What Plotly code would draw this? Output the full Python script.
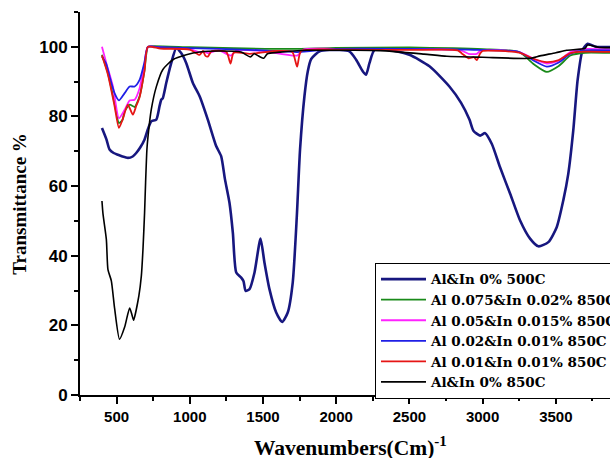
import plotly.graph_objects as go

names = ["Al&In 0% 500C", "Al 0.075&In 0.02% 850C", "Al 0.05&In 0.015% 850C",
         "Al 0.02&In 0.01% 850C", "Al 0.01&In 0.01% 850C", "Al&In 0% 850C"]
colors = ["#17177f", "#1a8a1a", "#ff22ff", "#1f1fe6", "#e61515", "#000000"]
widths = [2.6, 1.8, 1.8, 1.8, 1.8, 1.6]

# Al&In 0% 500C (navy)
x_navy = [400, 430, 452, 480, 509, 540, 577, 610, 634, 660, 691, 715, 737, 771, 793, 805, 815,
          839, 873, 907, 941, 976, 1021, 1067, 1123, 1180, 1214, 1240, 1271, 1294, 1317, 1351,
          1367, 1381, 1408, 1442, 1483, 1510, 1544, 1590, 1631, 1669, 1703, 1731, 1753, 1783,
          1806, 1829, 1886, 1954, 2090, 2136, 2181, 2204, 2227, 2261, 2364, 2500, 2637, 2773,
          2853, 2910, 2937, 2983, 3017, 3063, 3119, 3188, 3256, 3324, 3381, 3449, 3506, 3551,
          3585, 3619, 3649, 3683, 3717, 3774, 3870, 4000]
y_navy = [76.7, 73.5, 70.5, 69.5, 69.0, 68.5, 68.1, 68.5, 69.5, 71.0, 73.4, 76.5, 78.6, 79.1,
          82.9, 84.8, 85.2, 89.6, 95.3, 99.6, 98.2, 95.3, 89.6, 85.8, 79.1, 71.5, 68.6, 62.0,
          55.2, 46.6, 35.2, 33.7, 32.7, 29.9, 30.4, 35.2, 44.9, 38.0, 30.4, 23.7, 21.0, 23.7,
          32.3, 51.4, 70.5, 85.8, 93.0, 96.5, 98.7, 99.1, 98.7, 96.3, 93.0, 92.0, 95.3, 99.1,
          99.1, 97.7, 94.4, 88.6, 83.9, 79.1, 75.9, 74.5, 75.2, 72.1, 65.4, 57.8, 50.1, 44.9,
          42.7, 43.9, 48.2, 55.9, 63.5, 75.9, 90.5, 99.1, 100.9, 100.0, 99.9, 99.8]

# Al 0.075&In 0.02% 850C (green)
x_green = [400, 441, 486, 516, 540, 555, 589, 610, 623, 657, 690, 714, 750, 1000, 1300, 1700,
           2000, 2500, 2800, 3000, 3250, 3350, 3438, 3520, 3600, 3700, 3900]
y_green = [97.7, 92.4, 83.8, 78.1, 79.0, 81.5, 83.4, 83.0, 82.7, 85.8, 93.0, 100.0, 100.2,
           99.9, 99.6, 99.4, 99.7, 99.8, 99.6, 99.3, 98.5, 95.0, 92.8, 94.5, 97.5, 98.3, 98.2]

# Al 0.05&In 0.015% 850C (magenta)
x_mag = [400, 430, 475, 516, 555, 589, 623, 657, 690, 714, 800, 1000, 1067, 1100, 1123, 1200,
         1278, 1320, 1500, 1733, 1780, 2000, 2500, 2850, 2904, 2960, 2990, 3250, 3350, 3438,
         3520, 3600, 3700, 3900]
y_mag = [100.0, 95.3, 88.6, 79.5, 81.9, 84.6, 84.8, 88.1, 95.0, 100.0, 99.8, 99.3, 98.5, 98.6,
         98.2, 99.0, 97.5, 99.0, 98.8, 97.5, 99.3, 99.4, 99.4, 99.0, 98.0, 98.0, 99.0, 98.5,
         96.5, 95.2, 96.0, 98.5, 99.4, 99.2]

# Al 0.02&In 0.01% 850C (blue)
x_blue = [400, 430, 452, 486, 516, 555, 589, 623, 657, 690, 714, 800, 1200, 1500, 1733, 2000,
          2500, 2900, 3250, 3350, 3438, 3520, 3600, 3700, 3900]
y_blue = [97.2, 95.0, 91.5, 86.7, 84.6, 86.7, 88.6, 88.6, 90.5, 95.5, 100.0, 99.9, 99.4, 99.0,
          98.5, 99.4, 99.4, 99.2, 98.5, 96.0, 94.3, 95.5, 98.0, 99.0, 98.9]

# Al 0.01&In 0.01% 850C (red)
x_red = [400, 441, 486, 516, 540, 577, 611, 634, 657, 690, 714, 800, 1000, 1067, 1090, 1107,
         1123, 1150, 1250, 1278, 1300, 1408, 1476, 1600, 1700, 1733, 1760, 2000, 2500, 2830,
         2858, 2904, 2940, 2960, 2983, 3000, 3250, 3350, 3438, 3520, 3600, 3700, 3900]
y_red = [97.5, 92.0, 83.0, 76.7, 79.0, 83.4, 80.5, 83.0, 85.5, 93.0, 100.0, 99.5, 99.2, 97.7,
         98.8, 97.4, 97.2, 98.8, 98.5, 95.2, 98.3, 98.0, 98.3, 98.8, 98.5, 94.3, 98.8, 99.2,
         99.1, 99.0, 98.1, 96.7, 97.0, 96.2, 98.1, 98.8, 98.3, 96.5, 95.6, 96.2, 98.2, 98.6,
         98.5]

# Al&In 0% 850C (black)
x_black = [400, 407, 430, 441, 464, 486, 520, 555, 589, 605, 616, 652, 669, 680, 691, 698,
           707, 714, 737, 771, 816, 884, 976, 1067, 1200, 1350, 1414, 1440, 1476, 1505, 1530,
           1600, 1800, 2090, 2300, 2600, 2756, 3000, 3324, 3392, 3500, 3574, 3700, 3717, 3800,
           3900]
y_black = [55.7, 52.0, 44.7, 36.0, 32.8, 25.0, 16.0, 19.5, 25.0, 23.0, 21.5, 28.5, 34.2, 41.8,
           52.3, 61.0, 70.5, 74.0, 82.0, 88.5, 93.5, 96.3, 97.7, 98.5, 98.8, 98.5, 97.1, 98.0,
           97.2, 96.7, 98.0, 98.4, 99.0, 99.0, 98.9, 97.9, 97.3, 97.0, 96.7, 97.4, 98.3, 99.0,
           99.6, 100.5, 99.8, 99.8]

xs = [x_navy, x_green, x_mag, x_blue, x_red, x_black]
ys = [y_navy, y_green, y_mag, y_blue, y_red, y_black]

x_ticks = [500, 1000, 1500, 2000, 2500, 3000, 3500]
y_ticks = [0, 20, 40, 60, 80, 100]

fig = go.Figure()
for n, c, w, x, y in zip(names, colors, widths, xs, ys):
    fig.add_trace(go.Scatter(x=x, y=y, mode="lines", name=n,
                             line=dict(color=c, width=w, shape="spline", smoothing=0.6)))

axis_common = dict(showline=True, linecolor="black", linewidth=2, showgrid=False,
                   zeroline=False, ticks="outside", ticklen=7, tickwidth=1.5,
                   tickcolor="black", mirror=False, automargin=False)

fig.update_xaxes(range=[250, 3870], tickvals=x_ticks, ticktext=[str(v) for v in x_ticks],
                 tickfont=dict(family="Liberation Sans", size=15, color="black", weight="bold"),
                 minor=dict(ticks="outside", ticklen=4, tickwidth=1.5, tickcolor="black",
                            dtick=250, tick0=250, showgrid=False),
                 **axis_common)
fig.update_yaxes(range=[0, 110], tickvals=y_ticks, ticktext=[str(v) for v in y_ticks],
                 tickfont=dict(family="Liberation Sans", size=17, color="black", weight="bold"),
                 minor=dict(ticks="outside", ticklen=4, tickwidth=1.5, tickcolor="black",
                            dtick=10, tick0=0, showgrid=False),
                 **axis_common)

fig.add_annotation(text="Wavenumbers(Cm)<sup>-1</sup>", xref="paper", yref="paper",
                   x=0.51, y=-0.176, xanchor="center", yanchor="bottom", showarrow=False,
                   font=dict(family="Liberation Serif", size=21.5, color="black", weight="bold"))
fig.add_annotation(text="Transmittance %", xref="paper", yref="paper",
                   x=-0.1146, y=0.5, xanchor="center", yanchor="middle", showarrow=False,
                   textangle=-90,
                   font=dict(family="Liberation Serif", size=19, color="black", weight="bold"))

fig.update_layout(
    width=610, height=458,
    margin=dict(l=80, r=0, t=12, b=63, autoexpand=False),
    paper_bgcolor="white", plot_bgcolor="white",
    showlegend=True,
    legend=dict(x=0.5566, y=0.345, xanchor="left", yanchor="top",
                bgcolor="white", bordercolor="black", borderwidth=1,
                font=dict(family="DejaVu Serif", size=13.5, color="black", weight="bold"),
                itemwidth=45, tracegroupgap=0),
)

fig.write_html("out.html")
